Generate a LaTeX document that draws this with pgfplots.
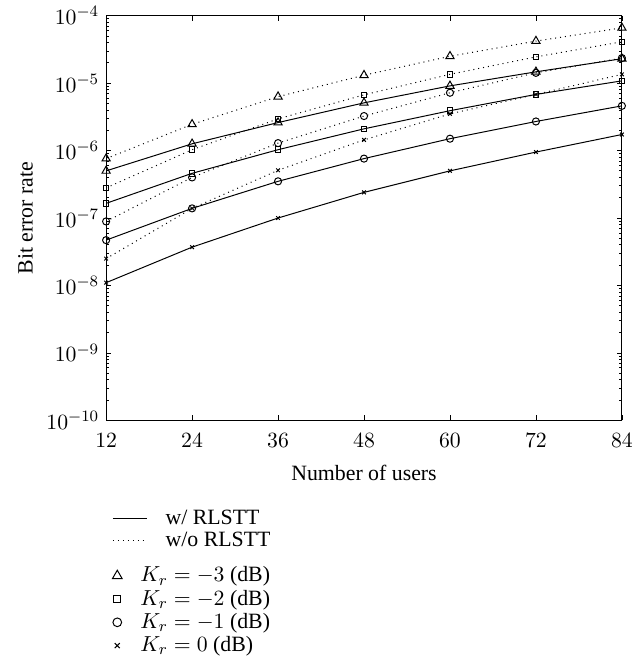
\documentclass[border=0pt]{standalone}
\usepackage{fontspec}
\setmainfont{Liberation Serif}
\usepackage{pgfplots}
\pgfplotsset{compat=1.18}

\pgfplotstableread{
x   tw        to        sw        so        cw        co        xw        xo
12  5.0e-7    7.6e-7    1.65e-7   2.8e-7    4.7e-8    8.9e-8    1.1e-8    2.5e-8
24  1.26e-6   2.45e-6   4.6e-7    1.03e-6   1.39e-7   4.0e-7    3.7e-8    1.39e-7
36  2.6e-6    6.3e-6    1.03e-6   2.95e-6   3.5e-7    1.29e-6   1.0e-7    5.1e-7
48  5.1e-6    1.31e-5   2.1e-6    6.7e-6    7.6e-7    3.25e-6   2.4e-7    1.44e-6
60  9.1e-6    2.5e-5    3.9e-6    1.35e-5   1.5e-6    7.2e-6    5.0e-7    3.5e-6
72  1.47e-5   4.2e-5    6.8e-6    2.45e-5   2.7e-6    1.42e-5   9.5e-7    6.8e-6
84  2.3e-5    6.6e-5    1.08e-5   4.1e-5    4.6e-6    2.35e-5   1.73e-6   1.35e-5
}\ber

\newcommand\fs{\fontsize{11}{13}\selectfont}

\pgfplotsset{
  mytri/.style={mark=triangle, mark size=2.4pt},
  mysq/.style={mark=square, mark size=1.4pt},
  mycirc/.style={mark=o, mark size=1.8pt},
  myx/.style={mark=x, mark size=1.3pt},
  wline/.style={black, line width=0.5pt, solid, mark options={solid, line width=0.5pt}},
  oline/.style={black, line width=0.5pt, dotted, mark options={solid, line width=0.5pt}},
}

\begin{document}
\begin{tikzpicture}
\begin{axis}[
    name=ax,
    scale only axis,
    width=260pt, height=204pt,
    ymode=log,
    xmin=12, xmax=84,
    ymin=1e-10, ymax=1e-4,
    xtick={12,24,...,84},
    ytick={1e-10,1e-9,1e-8,1e-7,1e-6,1e-5,1e-4},
    major tick length=2.5pt,
    minor tick length=1.5pt,
    tick style={black, line width=0.4pt},
    axis line style={line width=0.6pt},
    xlabel={Number of users},
    ylabel={Bit error rate},
    tick label style={font=\fs},
    xticklabel style={yshift=-3pt},
    label style={font=\fs},
    xlabel style={yshift=-2pt},
    legend cell align=left,
    legend style={draw=none, fill=none, at={(0,-0.205)}, anchor=north west,
      nodes={inner sep=1.2pt}, row sep=0pt, column sep=8pt, font=\fs},
]
\addlegendimage{black, solid, line width=0.5pt}
\addlegendentry{w/ RLSTT}
\addlegendimage{black, dotted, line width=0.5pt}
\addlegendentry{w/o RLSTT}

\addplot[oline, mytri, forget plot] table[x=x, y=to] {\ber};
\addplot[wline, mytri, forget plot] table[x=x, y=tw] {\ber};
\addplot[oline, mysq, forget plot] table[x=x, y=so] {\ber};
\addplot[wline, mysq, forget plot] table[x=x, y=sw] {\ber};
\addplot[oline, mycirc, forget plot] table[x=x, y=co] {\ber};
\addplot[wline, mycirc, forget plot] table[x=x, y=cw] {\ber};
\addplot[oline, myx, forget plot] table[x=x, y=xo] {\ber};
\addplot[wline, myx, forget plot] table[x=x, y=xw] {\ber};
\end{axis}

\begin{axis}[
    at={(ax.south west)}, anchor=south west,
    scale only axis,
    width=260pt, height=204pt,
    xmin=0, xmax=1, ymin=0, ymax=1,
    hide axis,
    legend cell align=left,
    legend style={draw=none, fill=none, at={(0,-0.345)}, anchor=north west,
      nodes={inner sep=1.2pt}, row sep=0.2pt, column sep=8pt, font=\fs},
]
\addlegendimage{only marks, black, mark=triangle, mark size=2.8pt, mark options={line width=0.5pt}}
\addlegendentry{$K_r = -3$ (dB)}
\addlegendimage{only marks, black, mark=square, mark size=1.8pt, mark options={line width=0.5pt}}
\addlegendentry{$K_r = -2$ (dB)}
\addlegendimage{only marks, black, mark=o, mark size=2.2pt, mark options={line width=0.5pt}}
\addlegendentry{$K_r = -1$ (dB)}
\addlegendimage{only marks, black, mark=x, mark size=1.8pt, mark options={line width=0.5pt}}
\addlegendentry{$K_r = 0$ (dB)}
\end{axis}

\path (ax.south west) ++(-53.5pt,-119pt) rectangle ++(322pt,330.5pt);
\end{tikzpicture}
\end{document}
